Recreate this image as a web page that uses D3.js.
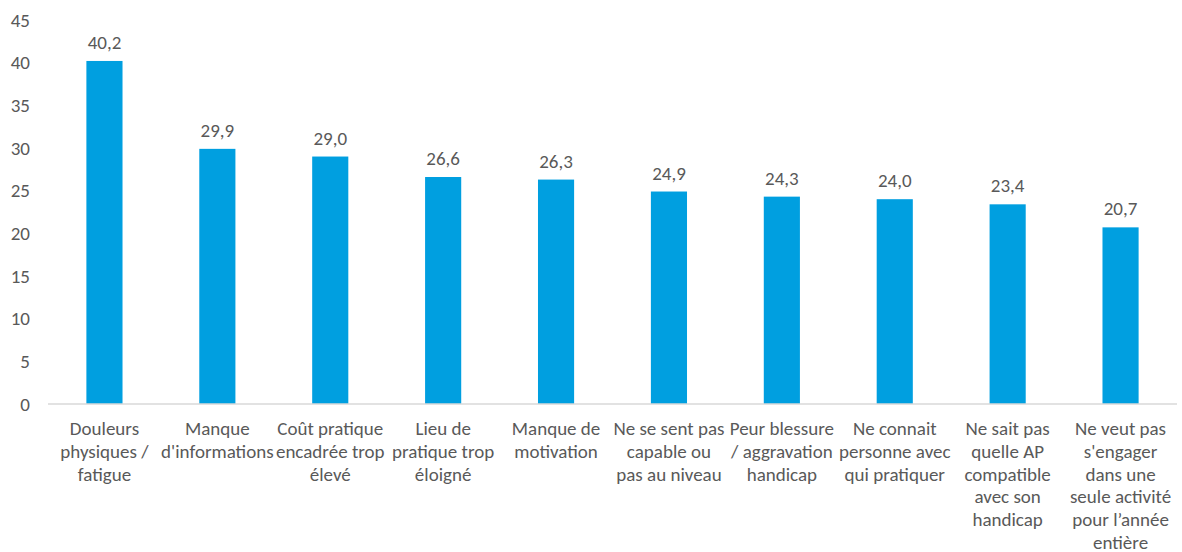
<!DOCTYPE html>
<html>
<head>
<meta charset="utf-8">
<script src="https://cdn.jsdelivr.net/npm/d3@7"></script>
<style>
  body { margin: 0; background: #fff; }
  text { font-family: Calibri, Carlito, "Liberation Sans", sans-serif; fill: #595959; }
</style>
</head>
<body>
<svg id="chart"></svg>
<script>
// categories (line breaks as in the reference)
const categories = [
    ["Douleurs", "physiques /", "fatigue"],
    ["Manque", "d'informations"],
    ["Coût pratique", "encadrée trop", "élevé"],
    ["Lieu de", "pratique trop", "éloigné"],
    ["Manque de", "motivation"],
    ["Ne se sent pas", "capable ou", "pas au niveau"],
    ["Peur blessure", "/ aggravation", "handicap"],
    ["Ne connait", "personne avec", "qui pratiquer"],
    ["Ne sait pas", "quelle AP", "compatible", "avec son", "handicap"],
    ["Ne veut pas", "s'engager", "dans une", "seule activité", "pour l’année", "entière"]
];
const values = [40.2, 29.9, 29.0, 26.6, 26.3, 24.9, 24.3, 24.0, 23.4, 20.7];
const yTicks = [0, 5, 10, 15, 20, 25, 30, 35, 40, 45];

const width = 1182, height = 552;
const margin = { top: 20, right: 5, bottom: 148, left: 48 };
const innerW = width - margin.left - margin.right;
const innerH = height - margin.top - margin.bottom;

const svg = d3.select("#chart").attr("width", width).attr("height", height);
const g = svg.append("g").attr("transform", `translate(${margin.left},${margin.top})`);

const x = d3.scaleBand().domain(d3.range(values.length)).range([0, innerW]).paddingInner(0.68).paddingOuter(0.34);
const y = d3.scaleLinear().domain([0, 45]).range([innerH, 0]);

// y tick labels
g.selectAll(".ytick")
    .data(yTicks)
    .join("text")
    .attr("class", "ytick")
    .attr("x", -18)
    .attr("y", d => y(d))
    .attr("dy", "0.35em")
    .attr("text-anchor", "end")
    .style("font-size", "19px")
    .text(d => d);

// bars
g.selectAll(".bar")
    .data(values)
    .join("rect")
    .attr("class", "bar")
    .attr("x", (d, i) => x(i))
    .attr("y", d => y(d))
    .attr("width", x.bandwidth())
    .attr("height", d => innerH - y(d))
    .attr("fill", "#009fe0");

// baseline
g.append("line")
    .attr("x1", 0).attr("x2", innerW)
    .attr("y1", innerH).attr("y2", innerH)
    .attr("stroke", "#d9d9d9")
    .attr("stroke-width", 1.5);

// value labels
g.selectAll(".val")
    .data(values)
    .join("text")
    .attr("class", "val")
    .attr("x", (d, i) => x(i) + x.bandwidth() / 2)
    .attr("y", d => y(d) - 12)
    .attr("text-anchor", "middle")
    .style("font-size", "19px")
    .text(d => d.toFixed(1).replace(".", ","));

// category labels
const cat = g.selectAll(".cat")
    .data(categories)
    .join("text")
    .attr("class", "cat")
    .attr("text-anchor", "middle")
    .style("font-size", "19px")
    .attr("transform", (d, i) => `translate(${x(i) + x.bandwidth() / 2},${innerH + 31})`);

cat.selectAll("tspan")
    .data(d => d)
    .join("tspan")
    .attr("x", 0)
    .attr("y", (d, i) => i * 22.8)
    .text(d => d);
</script>
</body>
</html>
